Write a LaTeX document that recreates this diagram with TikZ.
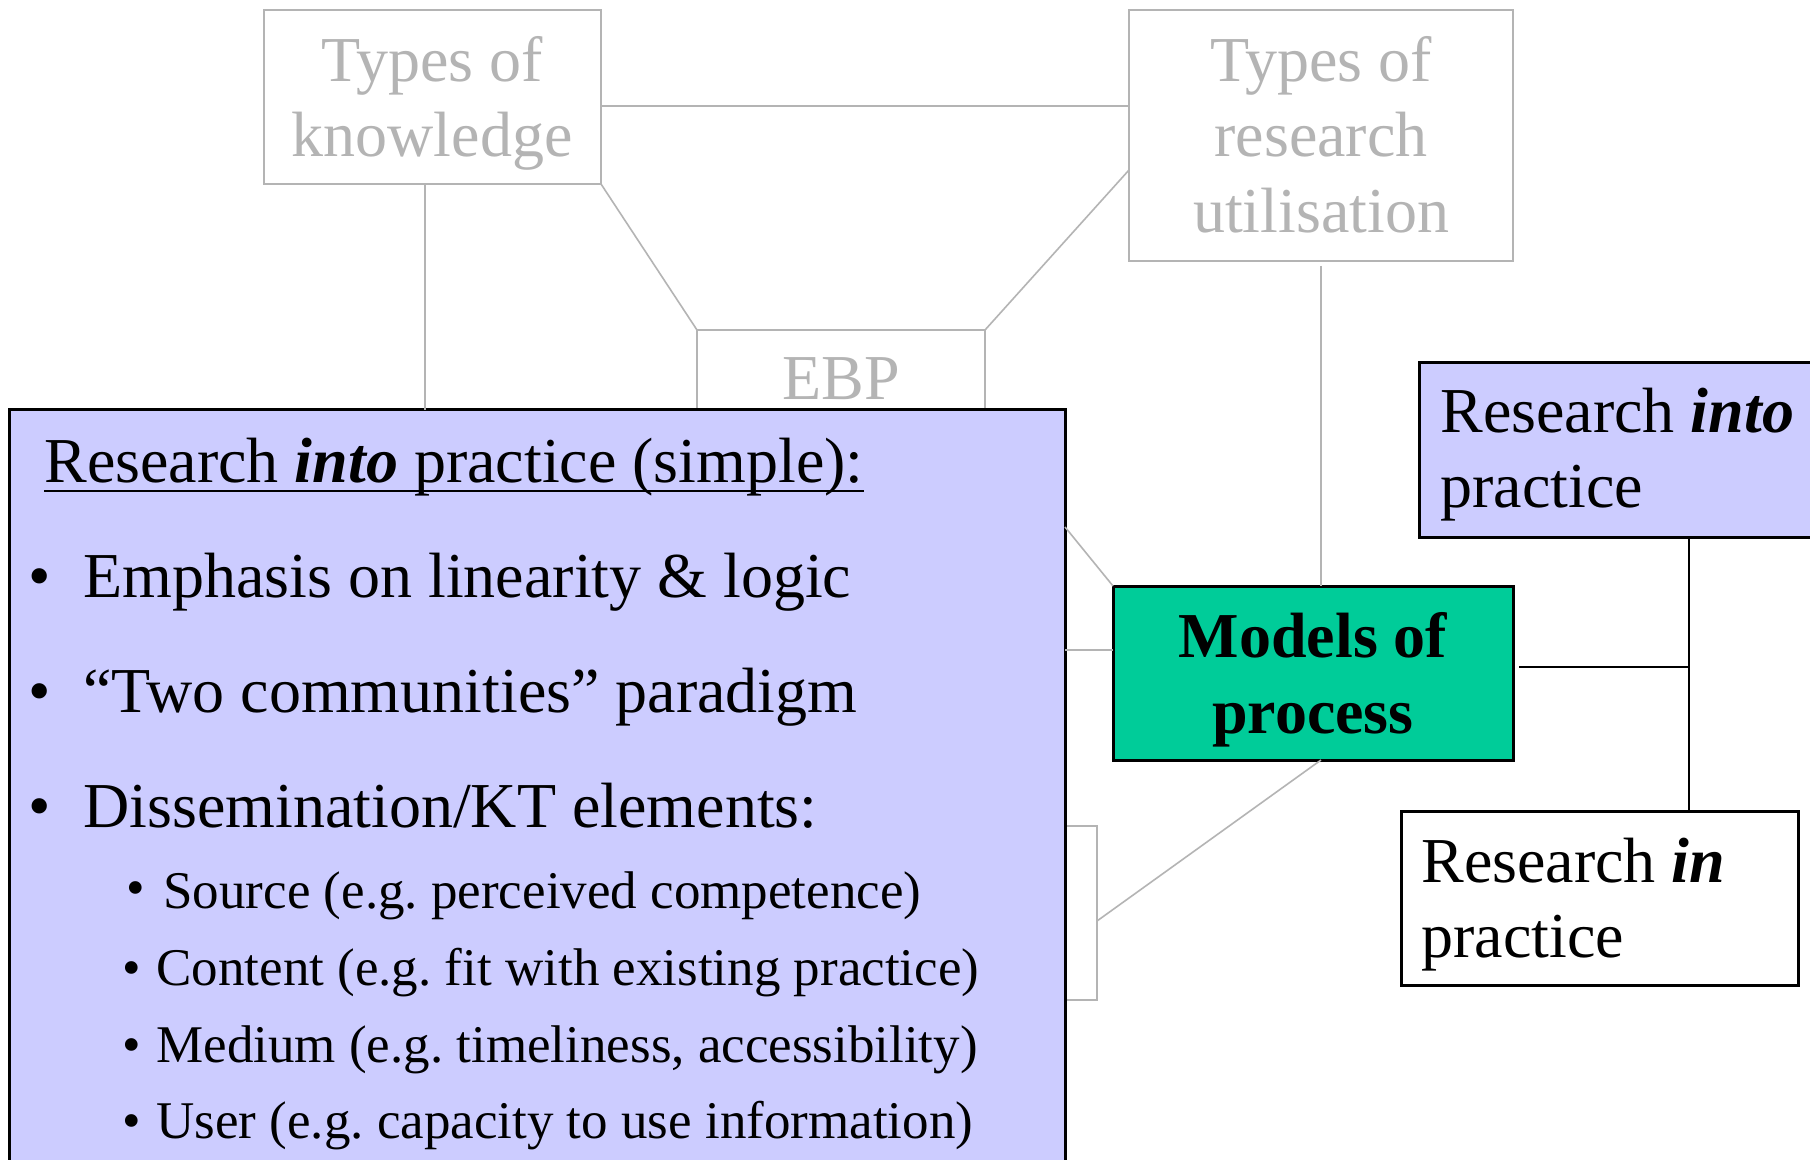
\documentclass[tikz,border=0pt]{standalone}
\usepackage{fontspec}
\setmainfont{Liberation Serif}
\frenchspacing
\definecolor{lgrey}{RGB}{180,180,180}
\definecolor{lav}{RGB}{204,204,255}
\definecolor{mgreen}{RGB}{0,204,153}
\begin{document}
\frenchspacing
\begin{tikzpicture}[x=0.5pt,y=-0.5pt,
  greybox/.style={draw=lgrey, line width=1pt, fill=white, rectangle, inner sep=0pt, outer sep=0pt},
  greyline/.style={draw=lgrey, line width=0.8pt},
  blackbox/.style={draw=black, line width=1.5pt, rectangle, inner sep=0pt, outer sep=0pt},
  blackline/.style={draw=black, line width=1pt},
  greytxt/.style={text=lgrey, font=\fontsize{32}{38}\selectfont, inner sep=0pt, anchor=base},
  ctrtxt/.style={font=\fontsize{32}{38}\selectfont\bfseries, inner sep=0pt, anchor=base},
  bigtxt/.style={font=\fontsize{32}{38}\selectfont\frenchspacing, inner sep=0pt, anchor=base west},
  bultxt/.style={font=\fontsize{32}{38}\selectfont, inner sep=0pt, anchor=base},
  subtxt/.style={font=\fontsize{26.5}{32}\selectfont\frenchspacing, inner sep=0pt, anchor=base west},
  subbul/.style={font=\fontsize{26.5}{32}\selectfont, inner sep=0pt, anchor=base},
]
\useasboundingbox (0,0) rectangle (1810,1160);
\fill[white] (0,0) rectangle (1810,1160);

% grey background boxes
\node[greybox, minimum width=168.5pt, minimum height=87pt] (tk) at (432.5,97) {};
\node[greybox, minimum width=192pt, minimum height=125.5pt] (tru) at (1321,135.5) {};
\node[greybox, minimum width=144pt, minimum height=85pt] (ebp) at (841,415) {};
\node[greybox, minimum width=33.5pt, minimum height=87pt] (hid) at (1063.5,913) {};

\node[greytxt] (tk1) at (432,82) {Types of};
\node[greytxt] (tk2) at (432,157) {knowledge};
\node[greytxt] (tru1) at (1321,82) {Types of};
\node[greytxt] (tru2) at (1321,157) {research};
\node[greytxt] (tru3) at (1321,233) {utilisation};
\node[greytxt] (ebp1) at (841,400) {EBP};

% foreground boxes
\node[blackbox, fill=lav, minimum width=528pt, minimum height=385pt] (big) at (537,795) {};
\node[blackbox, fill=mgreen, minimum width=200pt, minimum height=87pt] (mop) at (1313,673) {};
\node[blackbox, fill=lav, minimum width=205.5pt, minimum height=87pt] (rip) at (1624.5,450) {};
\node[blackbox, fill=white, minimum width=198.5pt, minimum height=87pt] (rinp) at (1599.5,898) {};

% grey connectors
\draw[greyline] ([yshift=-4.5pt]tk.east) -- ([yshift=-4.5pt]tk.east -| tru.west);
\draw[greyline] ([xshift=-3.75pt]tk.south) -- ([xshift=-3.75pt]tk.south |- big.north);
\draw[greyline] (tk.south east) -- (ebp.north west);
\draw[greyline] ([yshift=-17.25pt]tru.west) -- (ebp.north east);
\draw[greyline] ([yshift=-2.5pt]tru.south) -- (tru.south |- mop.north);
\coordinate (b1) at (1065,527);
\draw[greyline] (b1) -- (mop.north west);
\draw[greyline] ([yshift=11.5pt]mop.west -| big.east) -- ([yshift=11.5pt]mop.west);
\draw[greyline] ([xshift=4pt]mop.south) -- ([yshift=-4pt]hid.east);

% black connectors
\coordinate (jn) at (1689,667);
\draw[blackline] (rip.south -| jn) -- (rinp.north -| jn);
\draw[blackline] ([xshift=3pt]mop.east |- jn) -- (jn);

% big box text
\node[bigtxt] (head) at (44,482) {Research \textbf{\textit{into}} practice (simple):};
\draw[line width=1.2pt] ([yshift=-4.5pt]head.base west) -- ([yshift=-4.5pt]head.base east);
\node[bultxt] (bu1) at (40,597) {•};
\node[bigtxt] (t1) at (83,597) {Emphasis on linearity \& logic};
\node[bultxt] (bu2) at (40,712) {•};
\node[bigtxt] (t2) at (83,712) {“Two communities” paradigm};
\node[bultxt] (bu3) at (40,827) {•};
\node[bigtxt] (t3) at (83,827) {Dissemination/KT elements:};
\node[subbul] (sb1) at (136,905) {•};
\node[subtxt] (s1) at (163,908) {Source (e.g. perceived competence)};
\node[subbul] (sb2) at (132,985) {•};
\node[subtxt] (s2) at (156,985) {Content (e.g. fit with existing practice)};
\node[subbul] (sb3) at (132,1062) {•};
\node[subtxt] (s3) at (156,1062) {Medium (e.g. timeliness, accessibility)};
\node[subbul] (sb4) at (132,1138) {•};
\node[subtxt] (s4) at (156,1138) {User (e.g. capacity to use information)};

% models of process
\node[ctrtxt] (m1) at (1313,657) {Models of};
\node[ctrtxt] (m2) at (1313,733) {process};

% research into / in practice
\node[bigtxt] (r1) at (1440,433) {Research \textbf{\textit{into}}};
\node[bigtxt] (r2) at (1440,508) {practice};
\node[bigtxt] (q1) at (1421,882) {Research \textbf{\textit{in}}};
\node[bigtxt] (q2) at (1421,957) {practice};
\end{tikzpicture}
\end{document}
